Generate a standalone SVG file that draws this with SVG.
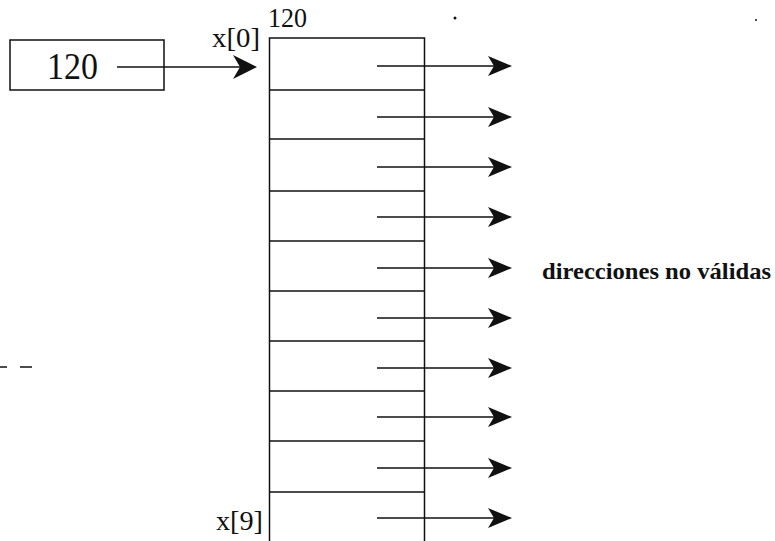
<svg xmlns="http://www.w3.org/2000/svg" width="775" height="541" viewBox="0 0 775 541">
<style>
.ln{stroke:#111;stroke-width:1.5;fill:none}
.txt{font-family:"Liberation Serif","DejaVu Serif",serif;fill:#111}
.ah{fill:#111}
</style>
<defs>
<path id="head" class="ah" d="M0,0 L-24,-10 L-18,0 L-24,10 Z"/>
</defs>
<rect width="775" height="541" fill="#fff"/>
<g id="pointer">
<rect class="ln" x="10" y="40" width="154" height="50"/>
<text class="txt" x="47" y="79" font-size="38" textLength="51" lengthAdjust="spacingAndGlyphs">120</text>
</g>
<g id="array">
<text class="txt" x="268" y="27" font-size="27" textLength="39" lengthAdjust="spacingAndGlyphs">120</text>
<text class="txt" x="212" y="47" font-size="28" textLength="48" lengthAdjust="spacingAndGlyphs">x[0]</text>
<text class="txt" x="216" y="530" font-size="28" textLength="47" lengthAdjust="spacingAndGlyphs">x[9]</text>
<path class="ln" d="M269.5,541 V38 H424.5 V541"/>
<path class="ln" d="M269.5,90 H424.5 M269.5,139 H424.5 M269.5,191 H424.5 M269.5,241 H424.5 M269.5,291 H424.5 M269.5,341 H424.5 M269.5,391 H424.5 M269.5,441 H424.5 M269.5,492 H424.5"/>
</g>
<g id="label">
<text class="txt" x="542" y="279" font-size="24" font-weight="bold" textLength="229" lengthAdjust="spacingAndGlyphs">direcciones no válidas</text>
</g>
<g id="connectors">
<path class="ln" d="M117,67 H240"/>
<path class="ah" d="M257,67 L233,55 L240,67 L233,79 Z"/>
<path class="ln" d="M377,66 H496 M377,117 H496 M377,167 H496 M377,217 H496 M377,268 H496 M377,318 H496 M377,368 H496 M377,417 H496 M377,468 H496 M377,518 H496"/>
<use href="#head" x="512" y="66"/>
<use href="#head" x="512" y="117"/>
<use href="#head" x="512" y="167"/>
<use href="#head" x="512" y="217"/>
<use href="#head" x="512" y="268"/>
<use href="#head" x="512" y="318"/>
<use href="#head" x="512" y="368"/>
<use href="#head" x="512" y="417"/>
<use href="#head" x="512" y="468"/>
<use href="#head" x="512" y="518"/>
</g>
<g id="marks">
<path class="ln" d="M0,367 H7 M20,367 H32"/>
<circle cx="455" cy="18" r="1.5" fill="#111"/>
<circle cx="756" cy="20" r="1" fill="#111"/>
</g>
</svg>
